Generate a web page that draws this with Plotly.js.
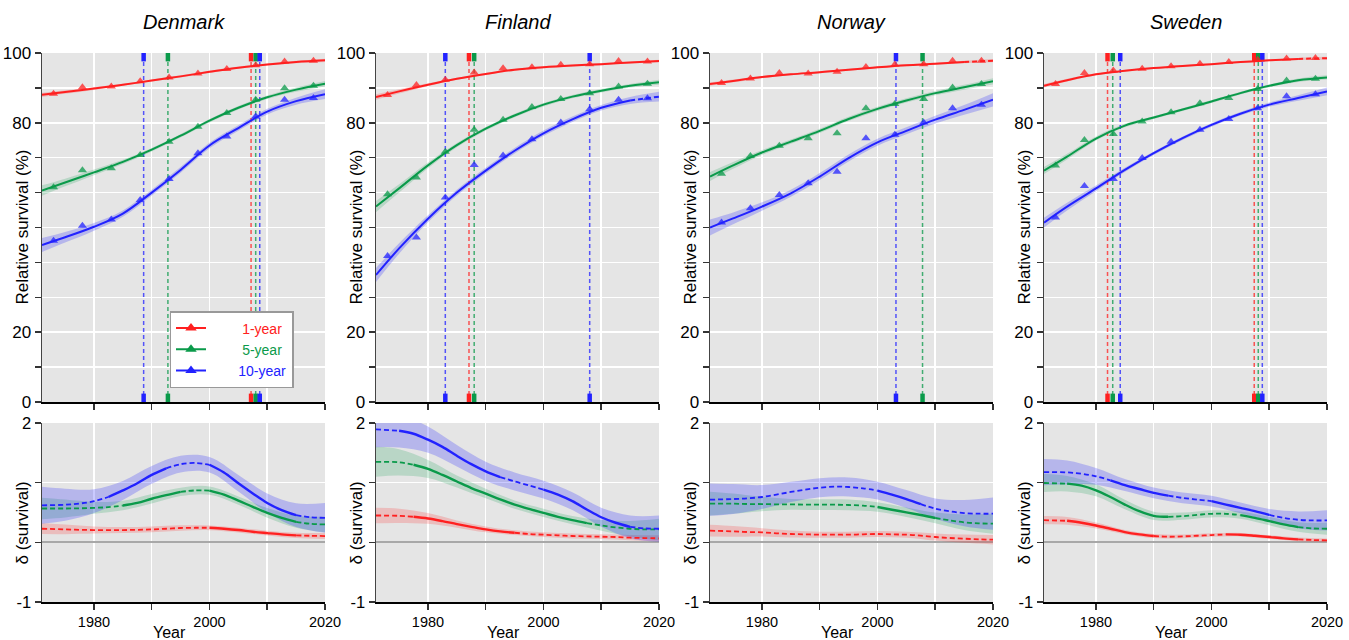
<!DOCTYPE html>
<html><head><meta charset="utf-8">
<script src="https://cdn.plot.ly/plotly-3.0.1.min.js"></script>
<style>html,body{margin:0;padding:0;background:#fff}#chart{width:1349px;height:640px}</style>
</head><body><div id="chart"></div>
<script>
// ---------------- DATA ----------------
const countries = ['Denmark', 'Finland', 'Norway', 'Sweden'];
const seriesNames = ['1-year', '5-year', '10-year'];
const obsYears = [1973, 1978, 1983, 1988, 1993, 1998, 2003, 2008, 2013, 2018];
const fitYears = [1971, 1975, 1980, 1985, 1990, 1995, 2000, 2005, 2010, 2015, 2020];
const deltaYears = [1971, 1975, 1977.5, 1980, 1982.5, 1985, 1987.5, 1990, 1992.5, 1995, 1997.5, 2000, 2002.5, 2005, 2007.5, 2010, 2012.5, 2015, 2017.5, 2020];
const xTickVals = [1980, 1990, 2000, 2010, 2020];
const xTickText = ['1980', '', '2000', '', '2020'];
const yTopTickVals = [0, 10, 20, 30, 40, 50, 60, 70, 80, 90, 100];
const yTopTickText = ['0', '', '20', '', '', '', '', '', '80', '', '100'];
const yBotTickVals = [-1, 0, 1, 2];
const yBotTickText = ['-1', '', '', '2'];

// Denmark
const dkObs1 = [88.3, 90.2, 90.4, 91.9, 93.0, 94.1, 95.4, 96.5, 97.6, 97.8];
const dkObs5 = [61.5, 66.4, 67.0, 70.8, 74.6, 78.9, 82.8, 86.6, 89.9, 90.6];
const dkObs10 = [46.2, 50.5, 52.3, 57.9, 63.9, 71.3, 76.1, 81.8, 86.6, 87.1];
const dkFit1 = [88.0, 88.8, 89.8, 90.9, 92.1, 93.3, 94.6, 95.8, 96.7, 97.4, 97.9];
const dkFit5 = [60.6, 62.9, 65.8, 68.8, 72.3, 76.3, 80.6, 84.3, 87.3, 89.5, 91.2];
const dkFit10 = [45.0, 47.2, 50.2, 54.0, 60.0, 66.5, 73.5, 78.5, 83.2, 86.2, 88.2];
const dkSe1 = [0.6, 0.5, 0.4, 0.3, 0.3, 0.3, 0.3, 0.3, 0.3, 0.35, 0.45];
const dkSe5 = [1.5, 1.1, 0.8, 0.6, 0.5, 0.5, 0.5, 0.5, 0.5, 0.6, 0.8];
const dkSe10 = [2.0, 1.5, 1.1, 0.9, 0.8, 0.8, 0.8, 0.8, 0.8, 1.0, 1.4];
const dkBreaks1 = [], dkBreaks5 = [], dkBreaks10 = [];
const dkDelta1 = [0.228, 0.217, 0.21, 0.206, 0.206, 0.206, 0.21, 0.217, 0.228, 0.24, 0.244, 0.244, 0.228, 0.206, 0.178, 0.155, 0.133, 0.117, 0.11, 0.105];
const dkDelta5 = [0.567, 0.567, 0.57, 0.578, 0.59, 0.617, 0.66, 0.73, 0.79, 0.845, 0.87, 0.867, 0.80, 0.70, 0.594, 0.494, 0.41, 0.344, 0.31, 0.30];
const dkDelta10 = [0.62, 0.63, 0.65, 0.69, 0.76, 0.87, 0.99, 1.13, 1.24, 1.31, 1.33, 1.30, 1.17, 0.99, 0.82, 0.66, 0.54, 0.455, 0.42, 0.41];
const dkDeltaSe1 = [0.09, 0.08, 0.06, 0.05, 0.05, 0.045, 0.04, 0.04, 0.04, 0.045, 0.05];
const dkDeltaSe5 = [0.18, 0.15, 0.1, 0.08, 0.08, 0.07, 0.07, 0.07, 0.08, 0.1, 0.13];
const dkDeltaSe10 = [0.31, 0.27, 0.2, 0.16, 0.15, 0.14, 0.13, 0.14, 0.16, 0.2, 0.25];
const dkDeltaBreaks1 = [2000, 2015];
const dkDeltaBreaks5 = [1985, 1995, 2000, 2015];
const dkDeltaBreaks10 = [1982.5, 1992.5, 2000, 2015];
const dkVlines1 = [2007.2], dkVlines5 = [1992.8, 2008.0], dkVlines10 = [1988.6, 2008.7];

// Finland
const fiObs1 = [88.0, 90.8, 92.3, 94.4, 95.6, 95.9, 96.6, 96.8, 97.7, 97.6];
const fiObs5 = [59.5, 64.3, 71.7, 78.0, 80.9, 84.5, 86.8, 88.5, 90.4, 91.2];
const fiObs10 = [41.8, 47.1, 58.6, 67.9, 70.6, 75.3, 80.1, 83.9, 86.6, 87.0];
const fiFit1 = [87.4, 89.0, 90.9, 92.6, 94.0, 95.2, 95.9, 96.4, 96.8, 97.3, 97.7];
const fiFit5 = [56.0, 61.2, 67.8, 73.6, 78.3, 82.1, 85.2, 87.5, 89.2, 90.6, 91.6];
const fiFit10 = [36.4, 44.0, 52.5, 60.0, 66.3, 72.0, 77.0, 81.0, 84.3, 86.4, 87.5];
const fiSe1 = [0.8, 0.6, 0.4, 0.3, 0.3, 0.3, 0.3, 0.3, 0.3, 0.3, 0.4];
const fiSe5 = [1.6, 1.2, 0.8, 0.6, 0.5, 0.5, 0.5, 0.5, 0.5, 0.5, 0.7];
const fiSe10 = [2.0, 1.5, 1.0, 0.8, 0.8, 0.8, 0.8, 0.8, 0.8, 1.0, 1.4];
const fiBreaks1 = [], fiBreaks5 = [], fiBreaks10 = [2015];
const fiDelta1 = [0.45, 0.444, 0.428, 0.40, 0.356, 0.306, 0.26, 0.217, 0.183, 0.161, 0.139, 0.128, 0.117, 0.106, 0.10, 0.094, 0.089, 0.078, 0.072, 0.067];
const fiDelta5 = [1.35, 1.34, 1.30, 1.23, 1.13, 1.02, 0.91, 0.817, 0.72, 0.633, 0.56, 0.494, 0.428, 0.372, 0.322, 0.283, 0.25, 0.228, 0.217, 0.217];
const fiDelta10 = [1.894, 1.87, 1.82, 1.72, 1.6, 1.45, 1.31, 1.19, 1.094, 1.02, 0.955, 0.883, 0.80, 0.69, 0.55, 0.42, 0.328, 0.26, 0.233, 0.228];
const fiDeltaSe1 = [0.13, 0.12, 0.09, 0.06, 0.05, 0.04, 0.04, 0.04, 0.04, 0.045, 0.05];
const fiDeltaSe5 = [0.25, 0.22, 0.15, 0.1, 0.08, 0.07, 0.07, 0.07, 0.09, 0.13, 0.18];
const fiDeltaSe10 = [0.3, 0.28, 0.22, 0.18, 0.16, 0.15, 0.15, 0.15, 0.16, 0.19, 0.22];
const fiDeltaBreaks1 = [1977.5, 1995];
const fiDeltaBreaks5 = [1977.5, 2007.5];
const fiDeltaBreaks10 = [1975, 1992.5, 2000, 2015];
const fiVlines1 = [1987.1], fiVlines5 = [1988.0], fiVlines10 = [1983.0, 2008.0];

// Norway
const noObs1 = [91.4, 92.7, 94.3, 94.1, 94.6, 96.0, 96.7, 96.8, 97.8, 97.8];
const noObs5 = [65.4, 70.5, 73.4, 75.6, 77.0, 84.2, 85.4, 86.8, 90.1, 91.1];
const noObs10 = [51.4, 55.5, 59.3, 62.7, 66.0, 75.6, 76.6, 80.1, 84.2, 85.2];
const noFit1 = [91.1, 92.0, 93.1, 93.9, 94.5, 95.2, 95.9, 96.5, 96.9, 97.4, 97.8];
const noFit5 = [64.6, 67.8, 71.5, 74.6, 77.7, 81.1, 84.0, 86.4, 88.5, 90.2, 91.9];
const noFit10 = [50.0, 52.6, 56.0, 59.8, 64.6, 69.9, 74.4, 77.7, 80.9, 83.7, 86.6];
const noSe1 = [0.5, 0.4, 0.3, 0.3, 0.3, 0.3, 0.3, 0.3, 0.3, 0.35, 0.45];
const noSe5 = [1.3, 1.0, 0.7, 0.6, 0.6, 0.6, 0.6, 0.6, 0.6, 0.7, 0.9];
const noSe10 = [2.3, 1.7, 1.2, 1.0, 1.0, 1.0, 1.0, 1.0, 1.1, 1.4, 1.9];
const noBreaks1 = [2015], noBreaks5 = [], noBreaks10 = [];
const noDelta1 = [0.196, 0.184, 0.173, 0.168, 0.151, 0.14, 0.134, 0.128, 0.128, 0.128, 0.134, 0.14, 0.134, 0.128, 0.112, 0.089, 0.073, 0.061, 0.05, 0.045];
const noDelta5 = [0.648, 0.648, 0.642, 0.642, 0.637, 0.637, 0.631, 0.631, 0.631, 0.626, 0.615, 0.592, 0.547, 0.503, 0.458, 0.408, 0.369, 0.335, 0.318, 0.313];
const noDelta10 = [0.715, 0.726, 0.737, 0.76, 0.80, 0.844, 0.883, 0.916, 0.933, 0.927, 0.905, 0.866, 0.80, 0.726, 0.642, 0.564, 0.52, 0.49, 0.48, 0.48];
const noDeltaSe1 = [0.1, 0.09, 0.07, 0.06, 0.05, 0.05, 0.05, 0.05, 0.06, 0.07, 0.08];
const noDeltaSe5 = [0.2, 0.17, 0.12, 0.09, 0.09, 0.09, 0.08, 0.08, 0.09, 0.13, 0.17];
const noDeltaSe10 = [0.27, 0.25, 0.2, 0.17, 0.16, 0.16, 0.15, 0.15, 0.17, 0.22, 0.27];
const noDeltaBreaks1 = [];
const noDeltaBreaks5 = [2000, 2010];
const noDeltaBreaks10 = [2000, 2007.5];
const noVlines1 = [], noVlines5 = [2007.8], noVlines10 = [2003.2];

// Sweden
const seObs1 = [91.1, 94.3, 95.0, 95.5, 96.2, 96.9, 97.4, 98.1, 98.4, 98.6];
const seObs5 = [67.8, 75.1, 76.8, 80.4, 83.0, 85.6, 87.1, 89.7, 92.1, 92.6];
const seObs10 = [52.9, 61.9, 63.9, 69.9, 74.6, 78.0, 81.1, 84.2, 87.6, 88.2];
const seFit1 = [90.6, 92.2, 93.9, 94.9, 95.7, 96.3, 96.8, 97.4, 97.9, 98.3, 98.5];
const seFit5 = [66.3, 70.3, 75.5, 79.2, 81.5, 83.8, 86.1, 88.5, 90.6, 92.2, 93.0];
const seFit10 = [51.4, 56.0, 61.2, 66.5, 71.3, 75.6, 79.4, 82.6, 85.2, 87.1, 89.0];
const seSe1 = [0.5, 0.4, 0.3, 0.25, 0.25, 0.25, 0.25, 0.25, 0.25, 0.3, 0.4];
const seSe5 = [1.0, 0.8, 0.6, 0.5, 0.4, 0.4, 0.4, 0.4, 0.4, 0.5, 0.6];
const seSe10 = [1.4, 1.1, 0.8, 0.6, 0.5, 0.5, 0.5, 0.5, 0.6, 0.8, 1.1];
const seBreaks1 = [2015], seBreaks5 = [], seBreaks10 = [];
const seDelta1 = [0.372, 0.361, 0.328, 0.283, 0.228, 0.172, 0.133, 0.106, 0.094, 0.10, 0.11, 0.122, 0.133, 0.128, 0.11, 0.089, 0.067, 0.05, 0.039, 0.033];
const seDelta5 = [0.994, 0.983, 0.95, 0.872, 0.76, 0.633, 0.522, 0.444, 0.428, 0.439, 0.461, 0.478, 0.478, 0.456, 0.41, 0.356, 0.30, 0.256, 0.233, 0.228];
const seDelta10 = [1.178, 1.172, 1.15, 1.106, 1.04, 0.96, 0.894, 0.828, 0.783, 0.744, 0.717, 0.69, 0.633, 0.578, 0.522, 0.46, 0.41, 0.378, 0.367, 0.367];
const seDeltaSe1 = [0.07, 0.065, 0.05, 0.035, 0.035, 0.03, 0.03, 0.03, 0.03, 0.03, 0.03];
const seDeltaSe5 = [0.15, 0.13, 0.1, 0.08, 0.07, 0.06, 0.06, 0.06, 0.07, 0.08, 0.1];
const seDeltaSe10 = [0.22, 0.2, 0.14, 0.1, 0.09, 0.09, 0.09, 0.09, 0.1, 0.14, 0.17];
const seDeltaBreaks1 = [1975, 1990, 2002.5, 2015];
const seDeltaBreaks5 = [1975, 1992.5, 2005, 2015];
const seDeltaBreaks10 = [1982.5, 1992.5, 2000, 2010];
const seVlines1 = [1982.0, 2007.4], seVlines5 = [1982.9, 2008.1], seVlines10 = [1984.2, 2008.8];

// ---------------- TABLES BUILT FROM THE ARRAYS ----------------
const T = [
  {obs:[dkObs1,dkObs5,dkObs10], fit:[dkFit1,dkFit5,dkFit10], se:[dkSe1,dkSe5,dkSe10], br:[dkBreaks1,dkBreaks5,dkBreaks10],
   d:[dkDelta1,dkDelta5,dkDelta10], dse:[dkDeltaSe1,dkDeltaSe5,dkDeltaSe10], dbr:[dkDeltaBreaks1,dkDeltaBreaks5,dkDeltaBreaks10], vl:[dkVlines1,dkVlines5,dkVlines10]},
  {obs:[fiObs1,fiObs5,fiObs10], fit:[fiFit1,fiFit5,fiFit10], se:[fiSe1,fiSe5,fiSe10], br:[fiBreaks1,fiBreaks5,fiBreaks10],
   d:[fiDelta1,fiDelta5,fiDelta10], dse:[fiDeltaSe1,fiDeltaSe5,fiDeltaSe10], dbr:[fiDeltaBreaks1,fiDeltaBreaks5,fiDeltaBreaks10], vl:[fiVlines1,fiVlines5,fiVlines10]},
  {obs:[noObs1,noObs5,noObs10], fit:[noFit1,noFit5,noFit10], se:[noSe1,noSe5,noSe10], br:[noBreaks1,noBreaks5,noBreaks10],
   d:[noDelta1,noDelta5,noDelta10], dse:[noDeltaSe1,noDeltaSe5,noDeltaSe10], dbr:[noDeltaBreaks1,noDeltaBreaks5,noDeltaBreaks10], vl:[noVlines1,noVlines5,noVlines10]},
  {obs:[seObs1,seObs5,seObs10], fit:[seFit1,seFit5,seFit10], se:[seSe1,seSe5,seSe10], br:[seBreaks1,seBreaks5,seBreaks10],
   d:[seDelta1,seDelta5,seDelta10], dse:[seDeltaSe1,seDeltaSe5,seDeltaSe10], dbr:[seDeltaBreaks1,seDeltaBreaks5,seDeltaBreaks10], vl:[seVlines1,seVlines5,seVlines10]}
];

// ---------------- STYLE ----------------
const W = 1349, H = 640;
const panelLeft = [42, 376, 710, 1044], panelWidth = 283;
const topDom = [1 - 402 / H, 1 - 53 / H], botDom = [1 - 602 / H, 1 - 423 / H];
const lineCol = ['#FF2020', '#0A9A4A', '#2222FF'];
const bandCol = ['rgba(255,32,32,0.2)', 'rgba(10,154,74,0.2)', 'rgba(34,34,255,0.24)'];
const vCol = ['rgba(255,32,32,0.75)', 'rgba(10,154,74,0.75)', 'rgba(34,34,255,0.75)'];
const DASH = '5px,3px';
const FONT = 'Liberation Sans, Arial, sans-serif';

function splitAt(xs, ys, breaks) {
  const segs = []; let cur = {x: [], y: []};
  for (let k = 0; k < xs.length; k++) {
    cur.x.push(xs[k]); cur.y.push(ys[k]);
    if (breaks.indexOf(xs[k]) >= 0 && k < xs.length - 1) { segs.push(cur); cur = {x: [xs[k]], y: [ys[k]]}; }
  }
  segs.push(cur); return segs;
}

const data = [];
const lines = [], marks = [], vls = [];
T.forEach((t, i) => {
  const xa = 'x' + (i + 1), ya = 'y' + (i + 1), xb = 'x' + (i + 5), yb = 'y' + (i + 5);
  for (let s = 0; s < 3; s++) {
    data.push({x: fitYears, y: t.fit[s].map((v, k) => v - t.se[s][k]), xaxis: xa, yaxis: ya, mode: 'lines', line: {width: 0, shape: 'spline'}, showlegend: false, hoverinfo: 'skip'});
    data.push({x: fitYears, y: t.fit[s].map((v, k) => v + t.se[s][k]), xaxis: xa, yaxis: ya, mode: 'lines', line: {width: 0, shape: 'spline'}, fill: 'tonexty', fillcolor: bandCol[s], showlegend: false, hoverinfo: 'skip'});
    const dAt = fitYears.map(y => t.d[s][deltaYears.indexOf(y)]);
    data.push({x: fitYears, y: dAt.map((v, k) => v - t.dse[s][k]), xaxis: xb, yaxis: yb, mode: 'lines', line: {width: 0, shape: 'spline'}, showlegend: false, hoverinfo: 'skip'});
    data.push({x: fitYears, y: dAt.map((v, k) => v + t.dse[s][k]), xaxis: xb, yaxis: yb, mode: 'lines', line: {width: 0, shape: 'spline'}, fill: 'tonexty', fillcolor: bandCol[s], showlegend: false, hoverinfo: 'skip'});
    t.vl[s].forEach(v => {
      vls.push({x: [v, v], y: [0, 100], xaxis: xa, yaxis: ya, mode: 'lines+markers', cliponaxis: true,
        line: {color: vCol[s], width: 1.5, dash: '4px,3px'},
        marker: {symbol: 'line-ns', size: 12, color: lineCol[s], line: {color: lineCol[s], width: 4.5}}, showlegend: false, hoverinfo: 'skip'});
    });
    splitAt(fitYears, t.fit[s], t.br[s]).forEach((seg, j) => {
      lines.push({x: seg.x, y: seg.y, xaxis: xa, yaxis: ya, mode: 'lines', line: {color: lineCol[s], width: 2, shape: 'spline', dash: j % 2 === 0 ? 'solid' : DASH}, showlegend: false, hoverinfo: 'skip'});
    });
    splitAt(deltaYears, t.d[s], t.dbr[s]).forEach((seg, j) => {
      lines.push({x: seg.x, y: seg.y, xaxis: xb, yaxis: yb, mode: 'lines', line: {color: lineCol[s], width: j % 2 === 0 ? 1.8 : 2.4, shape: 'spline', dash: j % 2 === 0 ? DASH : 'solid'}, showlegend: false, hoverinfo: 'skip'});
    });
    marks.push({x: obsYears, y: t.obs[s], xaxis: xa, yaxis: ya, mode: 'markers', marker: {symbol: 'triangle-up', size: 8, color: lineCol[s], opacity: 0.75}, showlegend: false, hoverinfo: 'skip'});
  }
});
data.push(...vls, ...lines, ...marks);

const pads = ['\u00a0'.repeat(8), '\u00a0'.repeat(8), '\u00a0'.repeat(7)];
for (let s = 0; s < 3; s++) {
  data.push({x: [null], y: [null], xaxis: 'x', yaxis: 'y', mode: 'lines+markers', name: pads[s] + '<span style="color:' + lineCol[s] + '">' + seriesNames[s] + '</span>',
    line: {color: lineCol[s], width: 2}, marker: {symbol: 'triangle-up', size: 10, color: lineCol[s]}, showlegend: true});
}

const layout = {
  width: W, height: H, margin: {l: 0, r: 0, t: 0, b: 0},
  paper_bgcolor: '#ffffff', plot_bgcolor: '#E5E5E5',
  font: {family: FONT, color: '#000'},
  showlegend: true,
  legend: {x: 169.5 / W, y: 1 - 311 / H, xanchor: 'left', yanchor: 'top', bgcolor: '#ffffff', bordercolor: '#999999', borderwidth: 1.5,
    font: {size: 14, family: FONT}, tracegroupgap: 0, itemwidth: 30, traceorder: 'normal'},
  annotations: []
};

for (let i = 0; i < 4; i++) {
  const dom = [panelLeft[i] / W, (panelLeft[i] + panelWidth) / W];
  const axCommon = {ticks: 'outside', ticklen: 6, tickwidth: 1.5, tickcolor: '#333', showgrid: true, gridcolor: '#ffffff', gridwidth: 1.5, showline: true, fixedrange: true};
  layout['xaxis' + (i + 1)] = Object.assign({}, axCommon, {domain: dom, range: [1971, 2020], anchor: 'y' + (i + 1), tickmode: 'array', tickvals: xTickVals, ticktext: xTickText, showticklabels: false, linecolor: '#000', linewidth: 2, zeroline: false});
  layout['xaxis' + (i + 5)] = Object.assign({}, axCommon, {domain: dom, range: [1971, 2020], anchor: 'y' + (i + 5), tickmode: 'array', tickvals: xTickVals, ticktext: xTickText, tickfont: {size: 14.5}, linecolor: '#000', linewidth: 2, zeroline: false});
  layout['yaxis' + (i + 1)] = Object.assign({}, axCommon, {domain: topDom, range: [0, 100], anchor: 'x' + (i + 1), tickmode: 'array', tickvals: yTopTickVals, ticktext: yTopTickText, tickfont: {size: 17}, linecolor: '#444', linewidth: 1.5, zeroline: false});
  layout['yaxis' + (i + 5)] = Object.assign({}, axCommon, {domain: botDom, range: [-1, 2], anchor: 'x' + (i + 5), tickmode: 'array', tickvals: yBotTickVals, ticktext: yBotTickText, tickfont: {size: 16.5}, linecolor: '#444', linewidth: 1.5, zeroline: true, zerolinecolor: '#A8A8A8', zerolinewidth: 2});

  const cx = (panelLeft[i] + panelWidth / 2) / W;
  layout.annotations.push({text: '<i>' + countries[i] + '</i>', x: cx, y: 1 - 22 / H, xref: 'paper', yref: 'paper', showarrow: false, xanchor: 'center', yanchor: 'middle', font: {size: 20}});
  layout.annotations.push({text: 'Relative survival (%)', x: (panelLeft[i] - 20.5) / W, y: 1 - 227 / H, xref: 'paper', yref: 'paper', showarrow: false, textangle: -90, xanchor: 'center', yanchor: 'middle', font: {size: 17}});
  layout.annotations.push({text: 'δ (survival)', x: (panelLeft[i] - 20.5) / W, y: 1 - 523 / H, xref: 'paper', yref: 'paper', showarrow: false, textangle: -90, xanchor: 'center', yanchor: 'middle', font: {size: 17}});
  layout.annotations.push({text: 'Year', x: (panelLeft[i] + panelWidth / 2 - 14) / W, y: -1.5 / H, xref: 'paper', yref: 'paper', showarrow: false, xanchor: 'center', yanchor: 'bottom', font: {size: 16}, borderpad: 0});
}

Plotly.newPlot('chart', data, layout, {displayModeBar: false, staticPlot: true});
</script>
</body></html>
